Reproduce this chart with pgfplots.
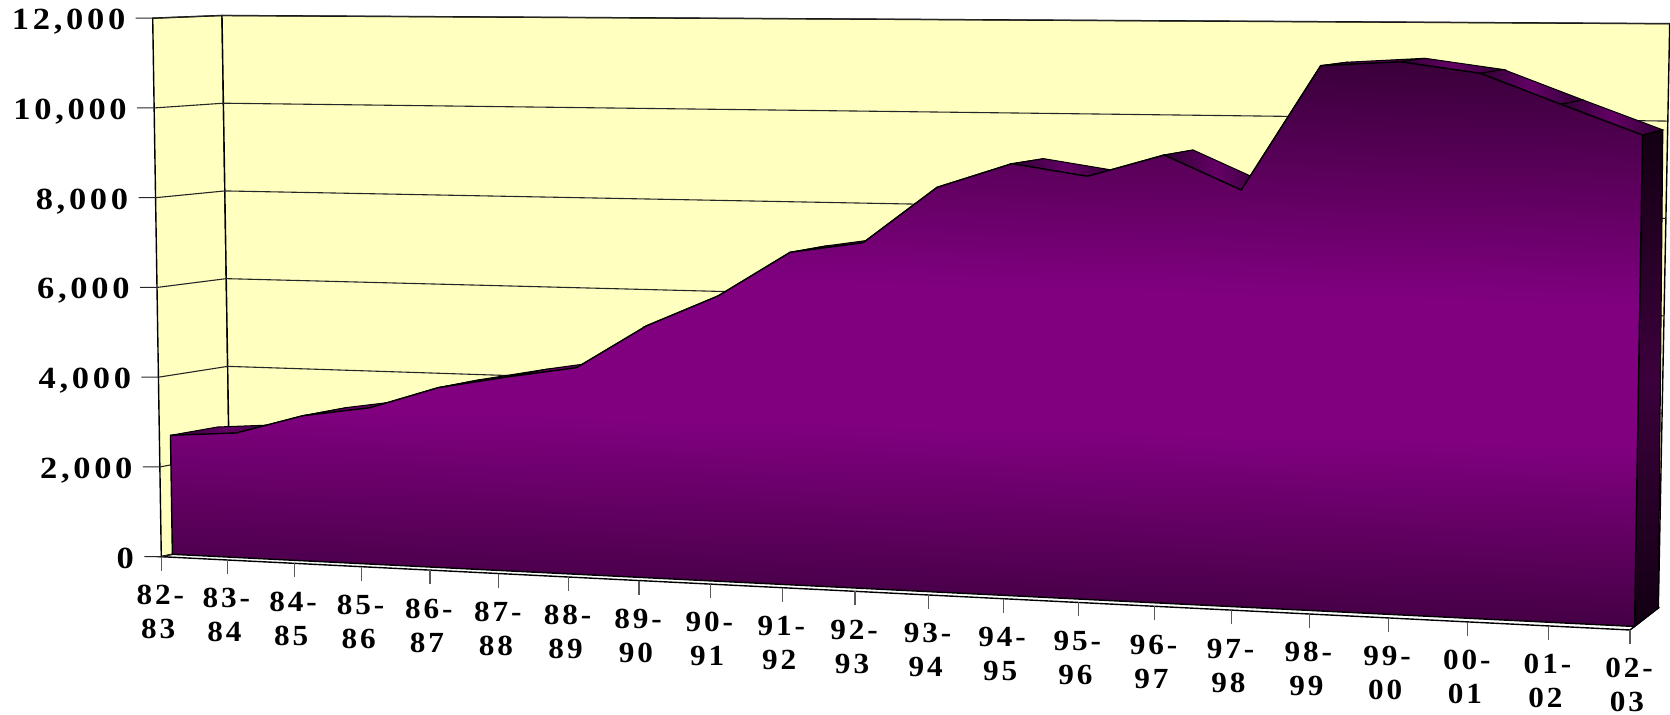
\documentclass[border=0pt]{standalone}
\usepackage{fontspec}
\usepackage{pgfplots}
\usepackage{pgfplotstable}
\pgfplotsset{compat=1.18}
\newfontfamily\lab{Liberation Serif}[LetterSpace=12,FakeStretch=1.12]
\newfontfamily\labx{Liberation Serif}[LetterSpace=10,FakeStretch=1.07]
\definecolor{wall}{HTML}{FFFFC0}
\definecolor{pur}{HTML}{800080}
\definecolor{dk}{HTML}{3A003A}
\definecolor{strip}{HTML}{640066}
\definecolor{stripd}{HTML}{300034}
\definecolor{sided}{HTML}{120012}
\definecolor{sidem}{HTML}{3C003C}
\pgfdeclareverticalshading{frontshade}{100bp}{color(0bp)=(dk); color(25bp)=(dk); color(43bp)=(pur); color(55bp)=(pur); color(75bp)=(dk); color(100bp)=(dk)}
% perspective of the 3-D box: category index i, value v, depth d -> picture position
\pgfmathdeclarefunction{prS}{1}{\pgfmathparse{(#1/20)/(1.117-0.117*#1/20)}}
\pgfmathdeclarefunction{prX}{3}{%
  \pgfmathsetmacro\ss{prS(#1)}%
  \pgfmathsetmacro\fl{(1-#3)*(161.3+1468.7*\ss)+#3*(230.5+1427.8*\ss)}%
  \pgfmathsetmacro\tp{(1-#3)*(152.7+1486.7*\ss)+#3*(222+1447.7*\ss)}%
  \pgfmathparse{\fl+(#2/12000)*(\tp-\fl)}}
\pgfmathdeclarefunction{prY}{3}{%
  \pgfmathsetmacro\ss{prS(#1)}%
  \pgfmathsetmacro\fl{(1-#3)*(556.7+73.3*\ss)+#3*(541.8+66.2*\ss)}%
  \pgfmathsetmacro\tp{(1-#3)*(18.2+9.8*\ss)+#3*(15.5+8.2*\ss)}%
  \pgfmathparse{\fl+(#2/12000)*(\tp-\fl)}}
\pgfplotstableread{
i v a b
0 2662 82- 83
1 2772 83- 84
2 3212 84- 85
3 3444 85- 86
4 3938 86- 87
5 4223 87- 88
6 4477 88- 89
7 5432 89- 90
8 6114 90- 91
9 7087 91- 92
10 7328 92- 93
11 8531 93- 94
12 9056 94- 95
13 8819 95- 96
14 9289 96- 97
15 8593 97- 98
16 11171 98- 99
17 11267 99- 00
18 11047 00- 01
19 10438 01- 02
20 9843 02- 03
}\valT
\pgfplotstableread{
i v a b
20 0 x x
0 0 x x
}\baseT
\pgfplotstablevertcat{\frontT}{\valT}
\pgfplotstablevertcat{\frontT}{\baseT}
\pgfplotstableread{
lvl lab
0 0
2000 2,000
4000 4,000
6000 6,000
8000 8,000
10000 10,000
12000 12,000
}\levT
\pgfplotstableread{
i d dx
0 0 -17
0 0 0
0 1 0
20 1 0
}\gridT
\pgfplotstableread{
i v d
0 0 0
0 12000 0
0 12000 1
0 0 1
}\lwallT
\pgfplotstableread{
i v d
0 0 1
0 12000 1
20 12000 1
20 0 1
}\bwallT
\pgfplotstableread{
i v d
0 0 0
20 0 0
20 0 1
0 0 1
}\floorT
\pgfplotstableread{
w d
0 0.16
1 0.16
1 0.84
0 0.84
}\stripT
\pgfplotstableread{
n dy
0 0
1 14
}\tickT
\pgfplotstableread{
p q
0 0.16
1 0.16
1 0.84
0 1
}\sideT
\begin{document}
\begin{tikzpicture}
\useasboundingbox (0,0) rectangle (835pt,357.5pt);
\begin{axis}[
  at={(0,0)},anchor=south west,
  scale only axis,width=835pt,height=357.5pt,
  xmin=0,xmax=1670,ymin=0,ymax=715,y dir=reverse,
  axis lines=none,clip=false]
% walls and floor
\addplot[fill=wall,draw=black,line width=0.7pt] table[x expr={prX(\thisrow{i},\thisrow{v},\thisrow{d})},y expr={prY(\thisrow{i},\thisrow{v},\thisrow{d})}]{\lwallT} -- cycle;
\addplot[fill=wall,draw=black,line width=0.7pt] table[x expr={prX(\thisrow{i},\thisrow{v},\thisrow{d})},y expr={prY(\thisrow{i},\thisrow{v},\thisrow{d})}]{\bwallT} -- cycle;
\addplot[fill=white,draw=black,line width=0.7pt] table[x expr={prX(\thisrow{i},\thisrow{v},\thisrow{d})},y expr={prY(\thisrow{i},\thisrow{v},\thisrow{d})}]{\floorT} -- cycle;
% gridlines with their tick stubs
\pgfplotsinvokeforeach{0,2000,4000,6000,8000,10000,12000}{
  \addplot[black!85,line width=0.55pt] table[x expr={prX(\thisrow{i},#1,\thisrow{d})+\thisrow{dx}},y expr={prY(\thisrow{i},#1,\thisrow{d})}]{\gridT};
}
% value labels
\addplot[draw=none,nodes near coords,point meta=explicit symbolic,
  nodes near coords style={anchor=east,inner sep=0pt,text height=9.9pt,text depth=0pt,font=\lab\bfseries\fontsize{15.4}{18}\selectfont,text=black}]
  table[x expr={prX(0,\thisrow{lvl},0)-27},y expr={prY(0,\thisrow{lvl},0)+1.5},meta=lab]{\levT};
% x ticks
\pgfplotsinvokeforeach{0,...,20}{
  \addplot[black!65,line width=0.6pt] table[x expr={prX(#1,0,0)},y expr={prY(#1,0,0)+\thisrow{dy}}]{\tickT};
}
% x labels
\addplot[draw=none,nodes near coords,point meta=explicit symbolic,
  nodes near coords style={anchor=center,inner sep=0pt,text height=9.9pt,text depth=0pt,font=\labx\bfseries\fontsize{14.6}{18}\selectfont,text=black}]
  table[x expr={prX(\thisrow{i},0,0)-1},y expr={prY(\thisrow{i},0,0)+38},meta=a]{\valT};
\addplot[draw=none,nodes near coords,point meta=explicit symbolic,
  nodes near coords style={anchor=center,inner sep=0pt,text height=9.9pt,text depth=0pt,font=\labx\bfseries\fontsize{14.6}{18}\selectfont,text=black}]
  table[x expr={prX(\thisrow{i},0,0)-3},y expr={prY(\thisrow{i},0,0)+72},meta=b]{\valT};
% upper surface, one strip per interval
\pgfplotsinvokeforeach{0,...,19}{
  \pgfmathtruncatemacro\ia{#1}\pgfmathtruncatemacro\ib{#1+1}
  \pgfplotstablegetelem{\ia}{v}\of\valT\let\va\pgfplotsretval
  \pgfplotstablegetelem{\ib}{v}\of\valT\let\vb\pgfplotsretval
  \addplot[left color=stripd,right color=stripd,middle color=strip,draw=black,line width=0.5pt]
    table[x expr={prX(\ia+\thisrow{w},\va+\thisrow{w}*(\vb-\va),\thisrow{d})},y expr={prY(\ia+\thisrow{w},\va+\thisrow{w}*(\vb-\va),\thisrow{d})}]{\stripT} -- cycle;
}
% right side face
\pgfplotstablegetelem{20}{v}\of\valT\let\vl\pgfplotsretval
\addplot[top color=sided,bottom color=sided,middle color=sidem,draw=black,line width=0.5pt]
  table[x expr={prX(20,\vl*\thisrow{p},\thisrow{q})},y expr={prY(20,\vl*\thisrow{p},\thisrow{q})}]{\sideT} -- cycle;
% front face
\addplot[shade,shading=frontshade,shading angle=-1.6,draw=black,line width=0.7pt]
  table[x expr={prX(\thisrow{i},\thisrow{v},0.16)},y expr={prY(\thisrow{i},\thisrow{v},0.16)}]{\frontT} -- cycle;
\end{axis}
\end{tikzpicture}
\end{document}
